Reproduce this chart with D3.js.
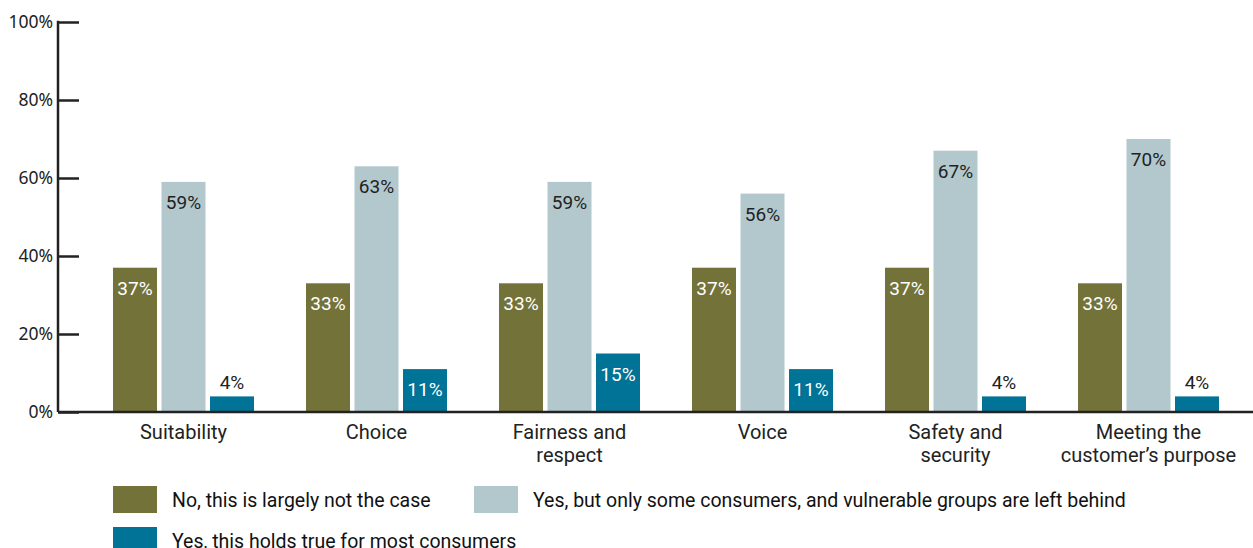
<!DOCTYPE html>
<html><head><meta charset="utf-8">
<script src="https://cdn.jsdelivr.net/npm/d3@7"></script>
<style>body{margin:0;background:#fff}svg{display:block}</style>
</head><body><svg id="c" width="1253" height="548"></svg>
<script>
const categories = [["Suitability"],["Choice"],["Fairness and","respect"],["Voice"],["Safety and","security"],["Meeting the","customer’s purpose"]];
const seriesNames = ["No, this is largely not the case","Yes, but only some consumers, and vulnerable groups are left behind","Yes, this holds true for most consumers"];
const noValues = [37,33,33,37,37,33];
const someValues = [59,63,59,56,67,70];
const mostValues = [4,11,15,11,4,4];
const yTicks = [0,20,40,60,80,100];
const colors = ["#737339","#b2c8cc","#007396"];
const labelColors = ["#fff","#222","#fff"];

const svg = d3.select("#c");
const y = d3.scaleLinear().domain([0,100]).range([412,22]);
const x = d3.scaleBand().domain(d3.range(categories.length)).range([87,1245]);
const barW = 44, barStep = 48.5;
const series = [noValues, someValues, mostValues];
const groupOffset = (x.bandwidth()-(2*barStep+barW))/2;

// axes
const yAxis = svg.append("g").attr("transform","translate(58,0)")
  .call(d3.axisRight(y).tickValues(yTicks).tickSize(21).tickFormat(""));
yAxis.select(".domain").remove();
yAxis.selectAll("line").attr("stroke","#222").attr("stroke-width",2.5);
svg.append("line").attr("x1",58).attr("x2",58).attr("y1",y(100)-1.25).attr("y2",y(0)).attr("stroke","#222").attr("stroke-width",2.5);
svg.selectAll(".ytl").data(yTicks).enter().append("text")
  .attr("x",53).attr("y",d=>y(d)+6).attr("text-anchor","end")
  .attr("font-family","Noto Sans").attr("font-size",17.5).attr("fill","#222").text(d=>d+"%");

series.forEach((vals,si)=>{
  const g = svg.append("g");
  vals.forEach((v,ci)=>{
    const bx = x(ci)+groupOffset+si*barStep;
    g.append("rect").attr("x",bx).attr("y",y(v)).attr("width",barW).attr("height",y(0)-y(v)).attr("fill",colors[si]);
    const inside = (y(0)-y(v))>35;
    g.append("text").attr("x",bx+barW/2).attr("y",inside? y(v)+27 : y(v)-7)
      .attr("text-anchor","middle").attr("font-family","Roboto").attr("font-size",19)
      .attr("fill",inside?labelColors[si]:"#222").text(v+"%");
  });
});

svg.append("line").attr("x1",58).attr("x2",1253).attr("y1",y(0)).attr("y2",y(0)).attr("stroke","#222").attr("stroke-width",2.5);

// category labels
categories.forEach((lines,ci)=>{
  const t = svg.append("text").attr("text-anchor","middle").attr("font-family","Roboto").attr("font-size",20).attr("fill","#222");
  lines.forEach((l,li)=>t.append("tspan").attr("x",x(ci)+x.bandwidth()/2).attr("y",439+li*23).text(l));
});

// legend
const legendPos = [[113,486],[474,486],[113,527]];
seriesNames.forEach((n,i)=>{
  const [lx,ly] = legendPos[i];
  svg.append("rect").attr("x",lx).attr("y",ly).attr("width",44).attr("height",27).attr("fill",colors[i]);
  svg.append("text").attr("x",lx+59).attr("y",ly+21).attr("font-family","Roboto").attr("font-size",19.5).attr("fill","#111").text(n);
});
</script></body></html>
